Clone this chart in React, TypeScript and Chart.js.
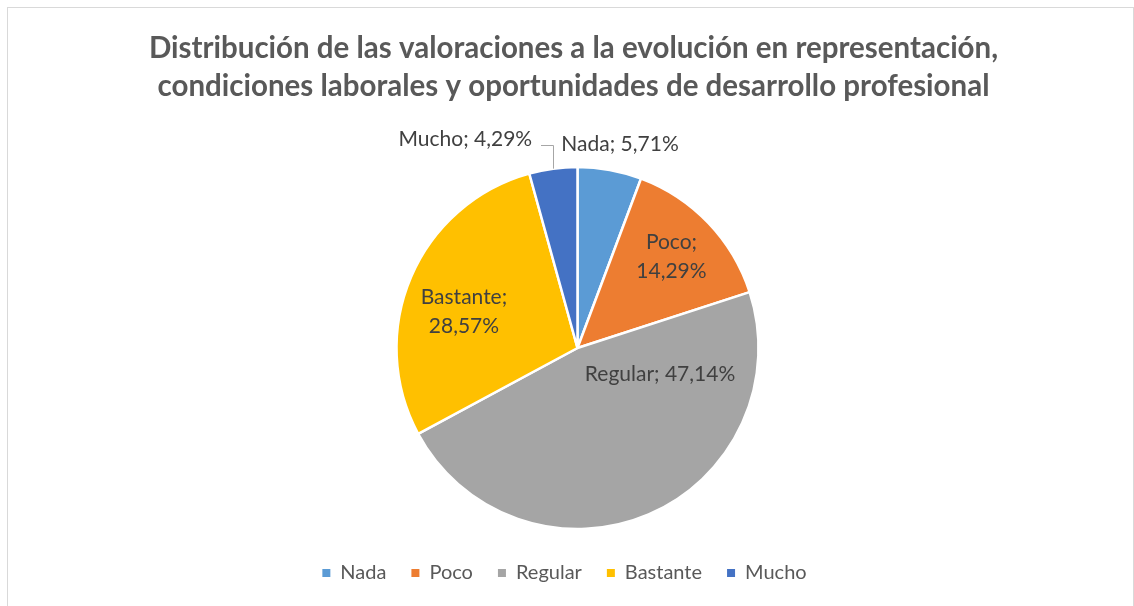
import React, { useEffect, useRef } from "react";
import { Chart, registerables } from "chart.js";

Chart.register(...registerables);

const TITLE_LINES = [
  "Distribución de las valoraciones a la evolución en representación,",
  "condiciones laborales y oportunidades de desarrollo profesional",
];
const CATEGORIES = ["Nada", "Poco", "Regular", "Bastante", "Mucho"];
const VALUES = [5.71, 14.29, 47.14, 28.57, 4.29];
const COLORS = ["#5B9BD5", "#ED7D31", "#A5A5A5", "#FFC000", "#4472C4"];

// Label placement (angle clockwise from top in degrees, distance as fraction of radius)
const LABEL_LAYOUT = [
  { angle: 11.8, dist: 1.149, split: false, leader: false },
  { angle: 45.9, dist: 0.723, split: true, leader: false },
  { angle: 107.8, dist: 0.479, split: false, leader: false },
  { angle: 287.8, dist: 0.659, split: true, leader: false },
  { angle: 0, dist: 0, split: false, leader: true },
];

const FONT = "Lato, 'Open Sans', sans-serif";
const LABEL_SIZE = 21;
const LINE_GAP = 29.5;

const fmt = (v: number) => v.toFixed(2).replace(".", ",") + "%";

const labelPlugin = {
  id: "sliceLabels",
  afterDatasetsDraw(chart: any) {
    const meta = chart.getDatasetMeta(0);
    const ctx = chart.ctx as CanvasRenderingContext2D;
    ctx.save();
    ctx.font = `${LABEL_SIZE}px ${FONT}`;
    ctx.fillStyle = "#404040";
    ctx.textBaseline = "middle";
    meta.data.forEach((arc: any, i: number) => {
      const p = arc.getProps(["x", "y", "startAngle", "endAngle", "outerRadius"], true);
      const lay = LABEL_LAYOUT[i];
      const cat = CATEGORIES[i];
      const val = fmt(VALUES[i]);
      if (lay.leader) {
        const mid = (p.startAngle + p.endAngle) / 2;
        const ex = p.x + p.outerRadius * Math.cos(mid);
        const ey = p.y + p.outerRadius * Math.sin(mid);
        const hy = p.y - p.outerRadius * 1.122;
        ctx.strokeStyle = "#A6A6A6";
        ctx.lineWidth = 1;
        ctx.beginPath();
        ctx.moveTo(Math.round(ex) + 0.5, ey);
        ctx.lineTo(Math.round(ex) + 0.5, Math.round(hy) + 0.5);
        ctx.lineTo(Math.round(ex) - 12, Math.round(hy) + 0.5);
        ctx.stroke();
        ctx.textAlign = "right";
        ctx.fillText(`${cat}; ${val}`, ex - 21, p.y - p.outerRadius * 1.153);
        return;
      }
      const a = (lay.angle * Math.PI) / 180;
      const r = p.outerRadius * lay.dist;
      const lx = p.x + r * Math.sin(a);
      const ly = p.y - r * Math.cos(a);
      ctx.textAlign = "center";
      if (lay.split) {
        ctx.fillText(`${cat};`, lx, ly - LINE_GAP / 2);
        ctx.fillText(val, lx, ly + LINE_GAP / 2);
      } else {
        ctx.fillText(`${cat}; ${val}`, lx, ly);
      }
    });
    ctx.restore();
  },
};

const shiftPlugin = {
  id: "shiftBoxes",
  afterLayout(chart: any) {
    if (chart.legend) {
      chart.legend.left -= 13;
      chart.legend.right -= 13;
    }
    if (chart.titleBlock) {
      chart.titleBlock.left -= 4;
      chart.titleBlock.right -= 4;
    }
  },
};

export default function App() {
  const ref = useRef<HTMLCanvasElement | null>(null);
  useEffect(() => {
    if (!ref.current) return;
    const chart = new Chart(ref.current, {
      type: "pie",
      data: {
        labels: CATEGORIES,
        datasets: [
          {
            data: VALUES,
            backgroundColor: COLORS,
            borderColor: "#FFFFFF",
            borderWidth: 2.5,
          },
        ],
      },
      options: {
        responsive: false,
        animation: false,
        radius: 181,
        layout: { padding: { left: 21, right: 0, top: 0, bottom: 13 } },
        plugins: {
          tooltip: { enabled: false },
          title: {
            display: true,
            text: TITLE_LINES,
            color: "#595959",
            font: { family: FONT, size: 29.5, weight: "bold", lineHeight: 38 / 29.5 },
            padding: { top: 29, bottom: 53 },
          },
          legend: {
            position: "bottom",
            labels: {
              boxWidth: 8,
              boxHeight: 8,
              padding: 25,
              color: "#595959",
              font: { family: FONT, size: 20 },
              generateLabels: (c: any) =>
                c.data.labels.map((l: string, i: number) => ({
                  text: l,
                  fillStyle: COLORS[i],
                  strokeStyle: COLORS[i],
                  lineWidth: 0,
                  fontColor: "#595959",
                  hidden: false,
                  index: i,
                })),
            },
          },
        },
      } as any,
      plugins: [labelPlugin, shiftPlugin],
    });
    return () => chart.destroy();
  }, []);

  return (
    <div style={{ position: "absolute", left: 0, top: 0, width: 1134, height: 606, overflow: "hidden", background: "#fff" }}>
      <div
        style={{
          position: "absolute",
          left: 7,
          top: 7,
          width: 1125,
          height: 600,
          borderTop: "1px solid #D9D9D9",
          borderLeft: "1px solid #D9D9D9",
          borderRight: "1px solid #D9D9D9",
        }}
      />
      <canvas ref={ref} width={1134} height={606} style={{ position: "absolute", left: 0, top: 0, width: 1134, height: 606 }} />
    </div>
  );
}
